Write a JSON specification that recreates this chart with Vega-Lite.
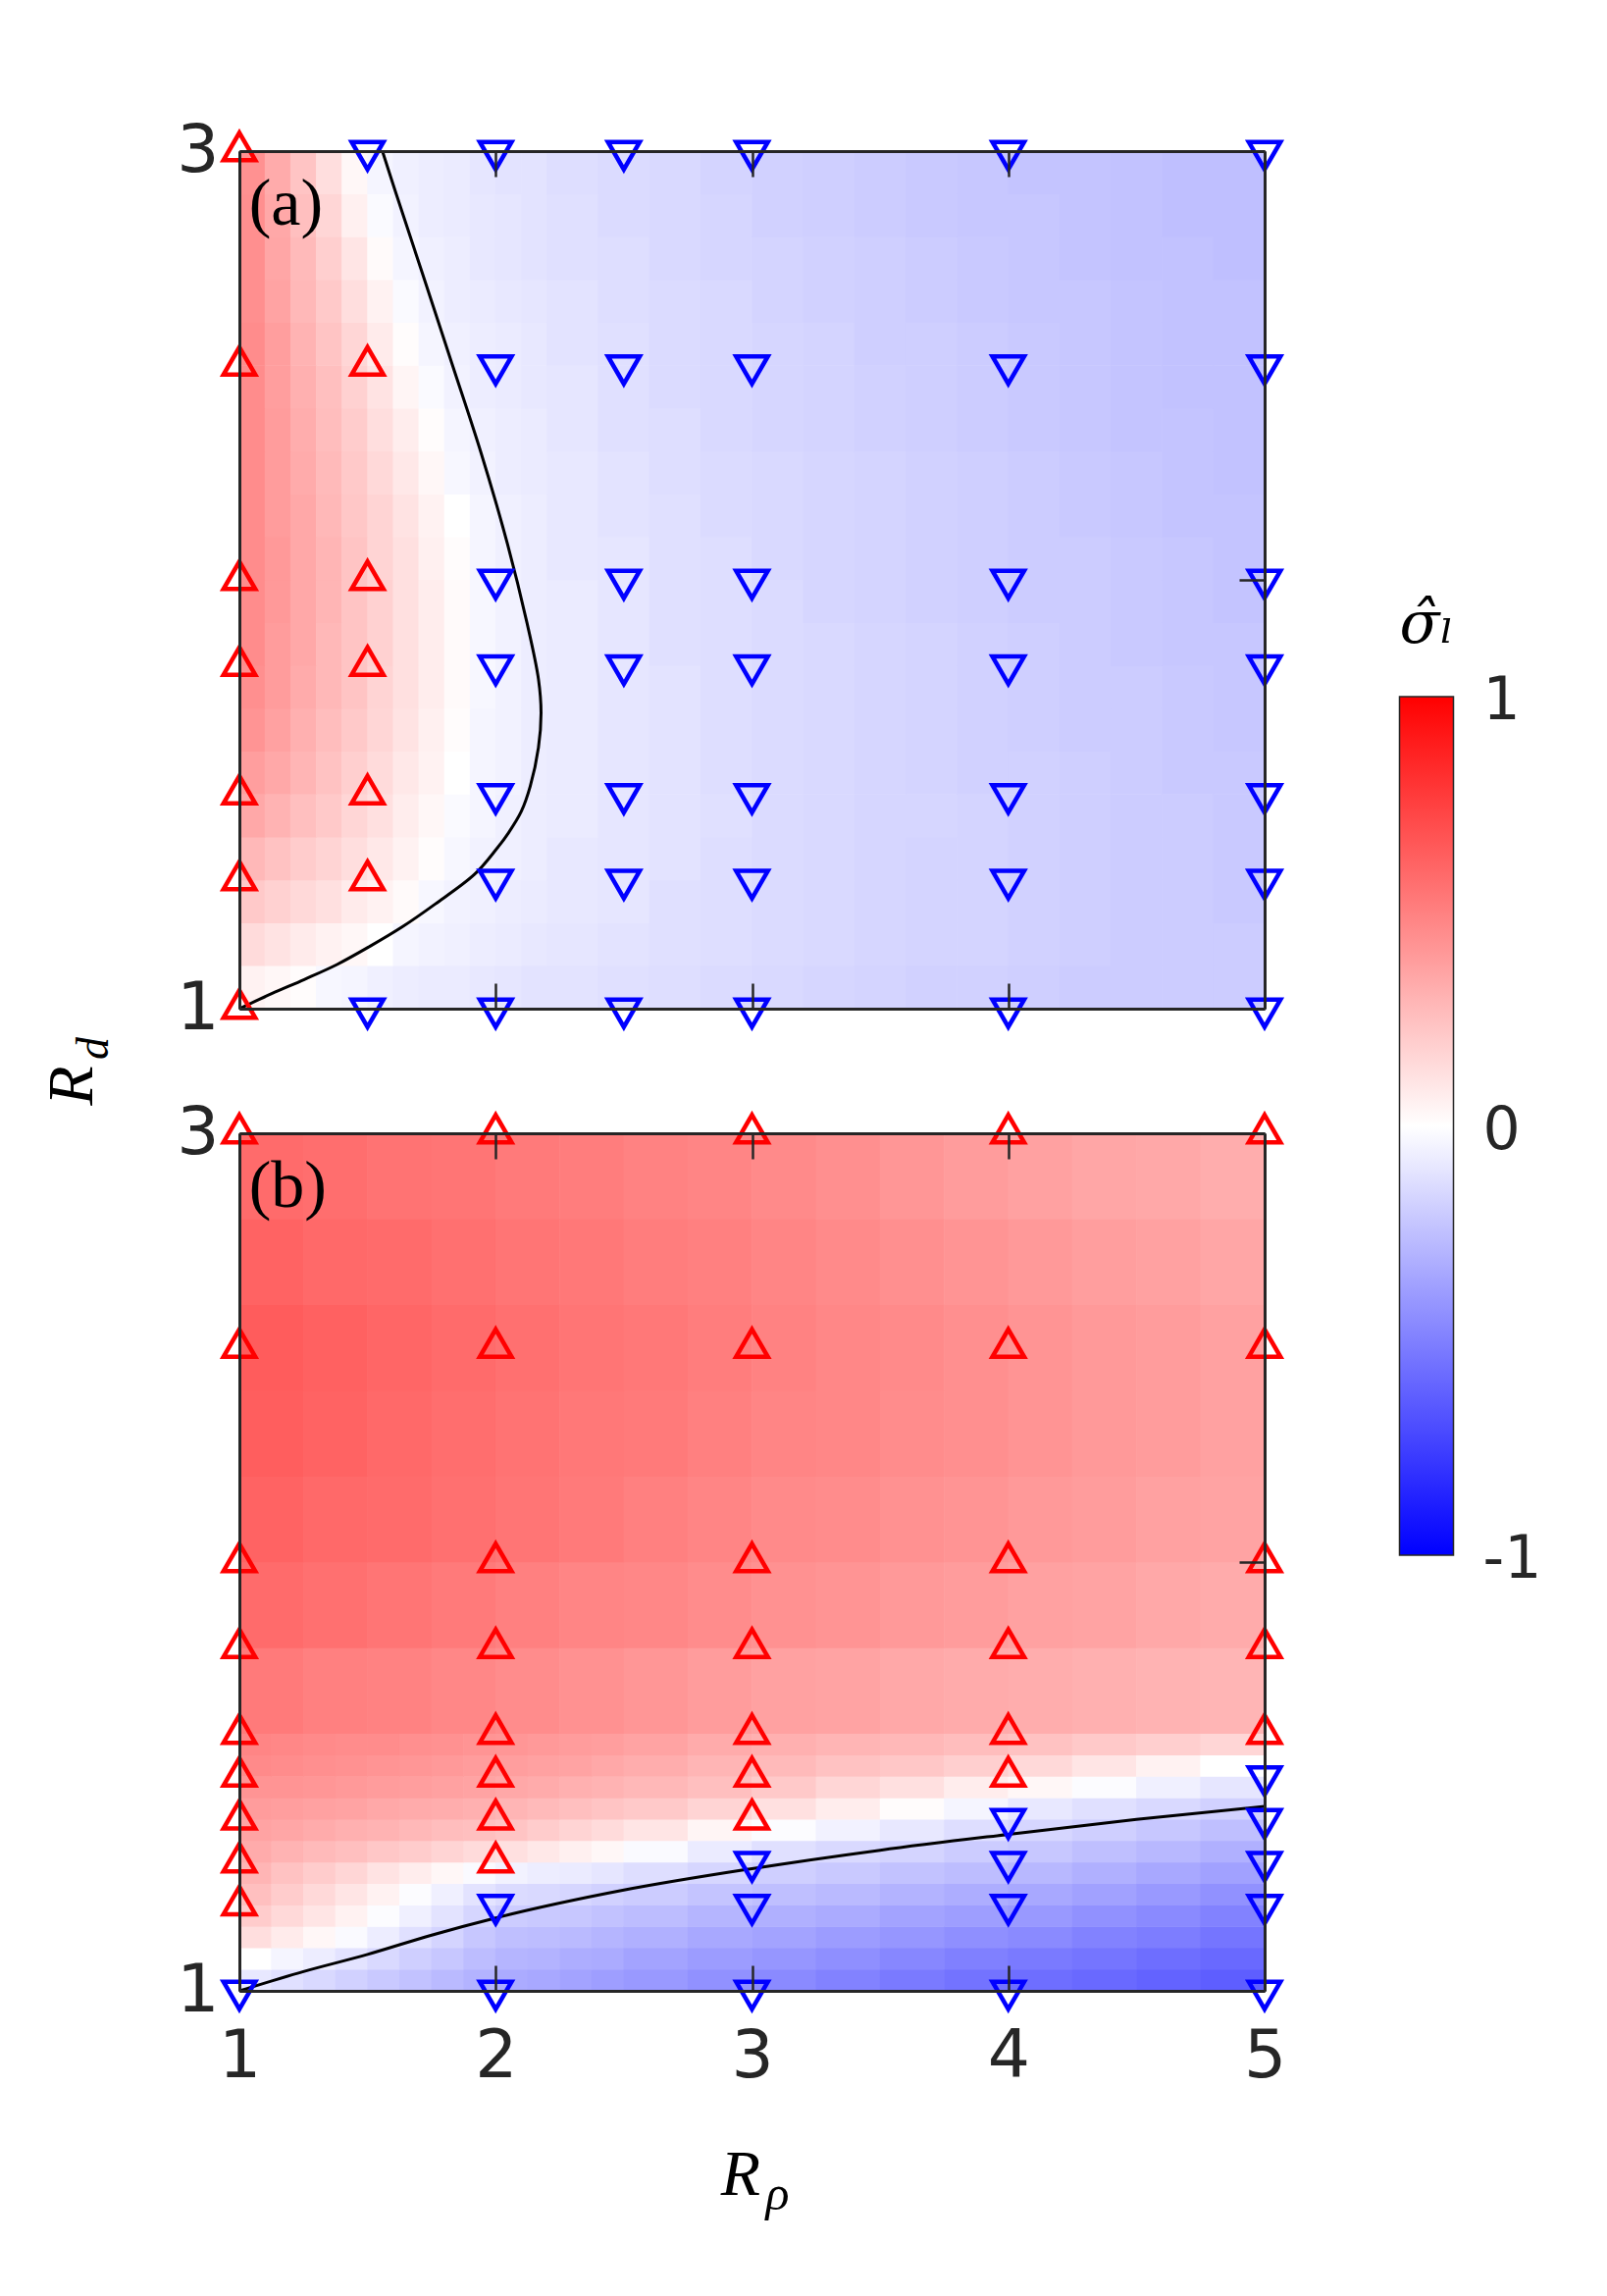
{
"$schema":"https://vega.github.io/schema/vega-lite/v6.json",
"background":"white",
"padding":{"left":40,"top":120,"right":5,"bottom":5},
"spacing":127,
"bounds":"flush",
"datasets":{
"a1":[
{"x":1.05,"y":1.05,"v":0.05},{"x":1.15,"y":1.05,"v":0.03},{"x":1.25,"y":1.05,"v":0.01},{"x":1.35,"y":1.05,"v":-0.03},{"x":1.45,"y":1.05,"v":-0.04},{"x":1.55,"y":1.05,"v":-0.06},{"x":1.65,"y":1.05,"v":-0.07},{"x":1.75,"y":1.05,"v":-0.08},{"x":1.85,"y":1.05,"v":-0.08},{"x":1.95,"y":1.05,"v":-0.09},{"x":2.05,"y":1.05,"v":-0.10},{"x":2.15,"y":1.05,"v":-0.11},
{"x":1.05,"y":1.15,"v":0.14},{"x":1.15,"y":1.15,"v":0.11},{"x":1.25,"y":1.15,"v":0.08},{"x":1.35,"y":1.15,"v":0.05},{"x":1.45,"y":1.15,"v":0.03},{"x":1.55,"y":1.15,"v":0.0},{"x":1.65,"y":1.15,"v":-0.04},{"x":1.75,"y":1.15,"v":-0.05},{"x":1.85,"y":1.15,"v":-0.06},{"x":1.95,"y":1.15,"v":-0.07},{"x":2.05,"y":1.15,"v":-0.08},{"x":2.15,"y":1.15,"v":-0.09},
{"x":1.05,"y":1.25,"v":0.21},{"x":1.15,"y":1.25,"v":0.18},{"x":1.25,"y":1.25,"v":0.15},{"x":1.35,"y":1.25,"v":0.12},{"x":1.45,"y":1.25,"v":0.08},{"x":1.55,"y":1.25,"v":0.05},{"x":1.65,"y":1.25,"v":0.02},{"x":1.75,"y":1.25,"v":-0.03},{"x":1.85,"y":1.25,"v":-0.05},{"x":1.95,"y":1.25,"v":-0.06},{"x":2.05,"y":1.25,"v":-0.07},{"x":2.15,"y":1.25,"v":-0.08},
{"x":1.05,"y":1.35,"v":0.28},{"x":1.15,"y":1.35,"v":0.24},{"x":1.25,"y":1.35,"v":0.20},{"x":1.35,"y":1.35,"v":0.17},{"x":1.45,"y":1.35,"v":0.13},{"x":1.55,"y":1.35,"v":0.09},{"x":1.65,"y":1.35,"v":0.05},{"x":1.75,"y":1.35,"v":0.01},{"x":1.85,"y":1.35,"v":-0.03},{"x":1.95,"y":1.35,"v":-0.05},{"x":2.05,"y":1.35,"v":-0.06},{"x":2.15,"y":1.35,"v":-0.07},
{"x":1.05,"y":1.45,"v":0.34},{"x":1.15,"y":1.45,"v":0.30},{"x":1.25,"y":1.45,"v":0.25},{"x":1.35,"y":1.45,"v":0.21},{"x":1.45,"y":1.45,"v":0.16},{"x":1.55,"y":1.45,"v":0.12},{"x":1.65,"y":1.45,"v":0.07},{"x":1.75,"y":1.45,"v":0.03},{"x":1.85,"y":1.45,"v":-0.02},{"x":1.95,"y":1.45,"v":-0.04},{"x":2.05,"y":1.45,"v":-0.06},{"x":2.15,"y":1.45,"v":-0.07},
{"x":1.05,"y":1.55,"v":0.38},{"x":1.15,"y":1.55,"v":0.34},{"x":1.25,"y":1.55,"v":0.29},{"x":1.35,"y":1.55,"v":0.24},{"x":1.45,"y":1.55,"v":0.19},{"x":1.55,"y":1.55,"v":0.14},{"x":1.65,"y":1.55,"v":0.09},{"x":1.75,"y":1.55,"v":0.05},{"x":1.85,"y":1.55,"v":0.0},{"x":1.95,"y":1.55,"v":-0.04},{"x":2.05,"y":1.55,"v":-0.05},{"x":2.15,"y":1.55,"v":-0.07},
{"x":1.05,"y":1.65,"v":0.42},{"x":1.15,"y":1.65,"v":0.37},{"x":1.25,"y":1.65,"v":0.31},{"x":1.35,"y":1.65,"v":0.26},{"x":1.45,"y":1.65,"v":0.21},{"x":1.55,"y":1.65,"v":0.16},{"x":1.65,"y":1.65,"v":0.11},{"x":1.75,"y":1.65,"v":0.06},{"x":1.85,"y":1.65,"v":0.01},{"x":1.95,"y":1.65,"v":-0.04},{"x":2.05,"y":1.65,"v":-0.05},{"x":2.15,"y":1.65,"v":-0.07},
{"x":1.05,"y":1.75,"v":0.44},{"x":1.15,"y":1.75,"v":0.39},{"x":1.25,"y":1.75,"v":0.33},{"x":1.35,"y":1.75,"v":0.28},{"x":1.45,"y":1.75,"v":0.23},{"x":1.55,"y":1.75,"v":0.17},{"x":1.65,"y":1.75,"v":0.12},{"x":1.75,"y":1.75,"v":0.07},{"x":1.85,"y":1.75,"v":0.02},{"x":1.95,"y":1.75,"v":-0.03},{"x":2.05,"y":1.75,"v":-0.05},{"x":2.15,"y":1.75,"v":-0.07},
{"x":1.05,"y":1.85,"v":0.45},{"x":1.15,"y":1.85,"v":0.39},{"x":1.25,"y":1.85,"v":0.34},{"x":1.35,"y":1.85,"v":0.28},{"x":1.45,"y":1.85,"v":0.23},{"x":1.55,"y":1.85,"v":0.18},{"x":1.65,"y":1.85,"v":0.12},{"x":1.75,"y":1.85,"v":0.07},{"x":1.85,"y":1.85,"v":0.02},{"x":1.95,"y":1.85,"v":-0.03},{"x":2.05,"y":1.85,"v":-0.05},{"x":2.15,"y":1.85,"v":-0.07},
{"x":1.05,"y":1.95,"v":0.45},{"x":1.15,"y":1.95,"v":0.40},{"x":1.25,"y":1.95,"v":0.34},{"x":1.35,"y":1.95,"v":0.29},{"x":1.45,"y":1.95,"v":0.23},{"x":1.55,"y":1.95,"v":0.18},{"x":1.65,"y":1.95,"v":0.12},{"x":1.75,"y":1.95,"v":0.07},{"x":1.85,"y":1.95,"v":0.02},{"x":1.95,"y":1.95,"v":-0.03},{"x":2.05,"y":1.95,"v":-0.05},{"x":2.15,"y":1.95,"v":-0.07},
{"x":1.05,"y":2.05,"v":0.45},{"x":1.15,"y":2.05,"v":0.40},{"x":1.25,"y":2.05,"v":0.34},{"x":1.35,"y":2.05,"v":0.29},{"x":1.45,"y":2.05,"v":0.23},{"x":1.55,"y":2.05,"v":0.17},{"x":1.65,"y":2.05,"v":0.12},{"x":1.75,"y":2.05,"v":0.06},{"x":1.85,"y":2.05,"v":0.01},{"x":1.95,"y":2.05,"v":-0.04},{"x":2.05,"y":2.05,"v":-0.06},{"x":2.15,"y":2.05,"v":-0.07},
{"x":1.05,"y":2.15,"v":0.45},{"x":1.15,"y":2.15,"v":0.39},{"x":1.25,"y":2.15,"v":0.34},{"x":1.35,"y":2.15,"v":0.28},{"x":1.45,"y":2.15,"v":0.22},{"x":1.55,"y":2.15,"v":0.17},{"x":1.65,"y":2.15,"v":0.11},{"x":1.75,"y":2.15,"v":0.05},{"x":1.85,"y":2.15,"v":0.0},{"x":1.95,"y":2.15,"v":-0.04},{"x":2.05,"y":2.15,"v":-0.06},{"x":2.15,"y":2.15,"v":-0.07},
{"x":1.05,"y":2.25,"v":0.45},{"x":1.15,"y":2.25,"v":0.39},{"x":1.25,"y":2.25,"v":0.33},{"x":1.35,"y":2.25,"v":0.27},{"x":1.45,"y":2.25,"v":0.21},{"x":1.55,"y":2.25,"v":0.15},{"x":1.65,"y":2.25,"v":0.09},{"x":1.75,"y":2.25,"v":0.03},{"x":1.85,"y":2.25,"v":-0.03},{"x":1.95,"y":2.25,"v":-0.05},{"x":2.05,"y":2.25,"v":-0.07},{"x":2.15,"y":2.25,"v":-0.08},
{"x":1.05,"y":2.35,"v":0.45},{"x":1.15,"y":2.35,"v":0.39},{"x":1.25,"y":2.35,"v":0.32},{"x":1.35,"y":2.35,"v":0.26},{"x":1.45,"y":2.35,"v":0.20},{"x":1.55,"y":2.35,"v":0.13},{"x":1.65,"y":2.35,"v":0.07},{"x":1.75,"y":2.35,"v":0.01},{"x":1.85,"y":2.35,"v":-0.04},{"x":1.95,"y":2.35,"v":-0.06},{"x":2.05,"y":2.35,"v":-0.07},{"x":2.15,"y":2.35,"v":-0.08},
{"x":1.05,"y":2.45,"v":0.45},{"x":1.15,"y":2.45,"v":0.38},{"x":1.25,"y":2.45,"v":0.31},{"x":1.35,"y":2.45,"v":0.25},{"x":1.45,"y":2.45,"v":0.18},{"x":1.55,"y":2.45,"v":0.11},{"x":1.65,"y":2.45,"v":0.04},{"x":1.75,"y":2.45,"v":-0.02},{"x":1.85,"y":2.45,"v":-0.05},{"x":1.95,"y":2.45,"v":-0.07},{"x":2.05,"y":2.45,"v":-0.08},{"x":2.15,"y":2.45,"v":-0.09},
{"x":1.05,"y":2.55,"v":0.45},{"x":1.15,"y":2.55,"v":0.38},{"x":1.25,"y":2.55,"v":0.30},{"x":1.35,"y":2.55,"v":0.23},{"x":1.45,"y":2.55,"v":0.16},{"x":1.55,"y":2.55,"v":0.08},{"x":1.65,"y":2.55,"v":0.01},{"x":1.75,"y":2.55,"v":-0.04},{"x":1.85,"y":2.55,"v":-0.06},{"x":1.95,"y":2.55,"v":-0.07},{"x":2.05,"y":2.55,"v":-0.08},{"x":2.15,"y":2.55,"v":-0.09},
{"x":1.05,"y":2.65,"v":0.44},{"x":1.15,"y":2.65,"v":0.36},{"x":1.25,"y":2.65,"v":0.28},{"x":1.35,"y":2.65,"v":0.21},{"x":1.45,"y":2.65,"v":0.13},{"x":1.55,"y":2.65,"v":0.05},{"x":1.65,"y":2.65,"v":-0.02},{"x":1.75,"y":2.65,"v":-0.05},{"x":1.85,"y":2.65,"v":-0.07},{"x":1.95,"y":2.65,"v":-0.08},{"x":2.05,"y":2.65,"v":-0.09},{"x":2.15,"y":2.65,"v":-0.10},
{"x":1.05,"y":2.75,"v":0.44},{"x":1.15,"y":2.75,"v":0.35},{"x":1.25,"y":2.75,"v":0.27},{"x":1.35,"y":2.75,"v":0.19},{"x":1.45,"y":2.75,"v":0.10},{"x":1.55,"y":2.75,"v":0.02},{"x":1.65,"y":2.75,"v":-0.04},{"x":1.75,"y":2.75,"v":-0.06},{"x":1.85,"y":2.75,"v":-0.07},{"x":1.95,"y":2.75,"v":-0.09},{"x":2.05,"y":2.75,"v":-0.10},{"x":2.15,"y":2.75,"v":-0.11},
{"x":1.05,"y":2.85,"v":0.44},{"x":1.15,"y":2.85,"v":0.34},{"x":1.25,"y":2.85,"v":0.25},{"x":1.35,"y":2.85,"v":0.16},{"x":1.45,"y":2.85,"v":0.06},{"x":1.55,"y":2.85,"v":-0.02},{"x":1.65,"y":2.85,"v":-0.05},{"x":1.75,"y":2.85,"v":-0.07},{"x":1.85,"y":2.85,"v":-0.08},{"x":1.95,"y":2.85,"v":-0.09},{"x":2.05,"y":2.85,"v":-0.10},{"x":2.15,"y":2.85,"v":-0.11},
{"x":1.05,"y":2.95,"v":0.43},{"x":1.15,"y":2.95,"v":0.33},{"x":1.25,"y":2.95,"v":0.23},{"x":1.35,"y":2.95,"v":0.13},{"x":1.45,"y":2.95,"v":0.03},{"x":1.55,"y":2.95,"v":-0.04},{"x":1.65,"y":2.95,"v":-0.06},{"x":1.75,"y":2.95,"v":-0.07},{"x":1.85,"y":2.95,"v":-0.08},{"x":1.95,"y":2.95,"v":-0.10},{"x":2.05,"y":2.95,"v":-0.11},{"x":2.15,"y":2.95,"v":-0.11}
],
"a2":[
{"x":2.3,"y":1.05,"v":-0.11},{"x":2.5,"y":1.05,"v":-0.12},{"x":2.7,"y":1.05,"v":-0.13},{"x":2.9,"y":1.05,"v":-0.14},{"x":3.1,"y":1.05,"v":-0.15},{"x":3.3,"y":1.05,"v":-0.16},{"x":3.5,"y":1.05,"v":-0.17},{"x":3.7,"y":1.05,"v":-0.18},{"x":3.9,"y":1.05,"v":-0.18},{"x":4.1,"y":1.05,"v":-0.19},{"x":4.3,"y":1.05,"v":-0.20},{"x":4.5,"y":1.05,"v":-0.20},{"x":4.7,"y":1.05,"v":-0.20},{"x":4.9,"y":1.05,"v":-0.20},
{"x":2.3,"y":1.15,"v":-0.10},{"x":2.5,"y":1.15,"v":-0.11},{"x":2.7,"y":1.15,"v":-0.12},{"x":2.9,"y":1.15,"v":-0.13},{"x":3.1,"y":1.15,"v":-0.14},{"x":3.3,"y":1.15,"v":-0.15},{"x":3.5,"y":1.15,"v":-0.16},{"x":3.7,"y":1.15,"v":-0.17},{"x":3.9,"y":1.15,"v":-0.17},{"x":4.1,"y":1.15,"v":-0.18},{"x":4.3,"y":1.15,"v":-0.19},{"x":4.5,"y":1.15,"v":-0.20},{"x":4.7,"y":1.15,"v":-0.20},{"x":4.9,"y":1.15,"v":-0.20},
{"x":2.3,"y":1.25,"v":-0.09},{"x":2.5,"y":1.25,"v":-0.10},{"x":2.7,"y":1.25,"v":-0.12},{"x":2.9,"y":1.25,"v":-0.13},{"x":3.1,"y":1.25,"v":-0.14},{"x":3.3,"y":1.25,"v":-0.15},{"x":3.5,"y":1.25,"v":-0.16},{"x":3.7,"y":1.25,"v":-0.17},{"x":3.9,"y":1.25,"v":-0.17},{"x":4.1,"y":1.25,"v":-0.18},{"x":4.3,"y":1.25,"v":-0.19},{"x":4.5,"y":1.25,"v":-0.20},{"x":4.7,"y":1.25,"v":-0.20},{"x":4.9,"y":1.25,"v":-0.21},
{"x":2.3,"y":1.35,"v":-0.09},{"x":2.5,"y":1.35,"v":-0.10},{"x":2.7,"y":1.35,"v":-0.11},{"x":2.9,"y":1.35,"v":-0.13},{"x":3.1,"y":1.35,"v":-0.14},{"x":3.3,"y":1.35,"v":-0.15},{"x":3.5,"y":1.35,"v":-0.16},{"x":3.7,"y":1.35,"v":-0.17},{"x":3.9,"y":1.35,"v":-0.17},{"x":4.1,"y":1.35,"v":-0.18},{"x":4.3,"y":1.35,"v":-0.19},{"x":4.5,"y":1.35,"v":-0.20},{"x":4.7,"y":1.35,"v":-0.20},{"x":4.9,"y":1.35,"v":-0.21},
{"x":2.3,"y":1.45,"v":-0.08},{"x":2.5,"y":1.45,"v":-0.10},{"x":2.7,"y":1.45,"v":-0.11},{"x":2.9,"y":1.45,"v":-0.12},{"x":3.1,"y":1.45,"v":-0.14},{"x":3.3,"y":1.45,"v":-0.15},{"x":3.5,"y":1.45,"v":-0.16},{"x":3.7,"y":1.45,"v":-0.16},{"x":3.9,"y":1.45,"v":-0.17},{"x":4.1,"y":1.45,"v":-0.18},{"x":4.3,"y":1.45,"v":-0.19},{"x":4.5,"y":1.45,"v":-0.20},{"x":4.7,"y":1.45,"v":-0.20},{"x":4.9,"y":1.45,"v":-0.21},
{"x":2.3,"y":1.55,"v":-0.08},{"x":2.5,"y":1.55,"v":-0.10},{"x":2.7,"y":1.55,"v":-0.11},{"x":2.9,"y":1.55,"v":-0.13},{"x":3.1,"y":1.55,"v":-0.14},{"x":3.3,"y":1.55,"v":-0.15},{"x":3.5,"y":1.55,"v":-0.16},{"x":3.7,"y":1.55,"v":-0.17},{"x":3.9,"y":1.55,"v":-0.18},{"x":4.1,"y":1.55,"v":-0.18},{"x":4.3,"y":1.55,"v":-0.19},{"x":4.5,"y":1.55,"v":-0.20},{"x":4.7,"y":1.55,"v":-0.21},{"x":4.9,"y":1.55,"v":-0.21},
{"x":2.3,"y":1.65,"v":-0.08},{"x":2.5,"y":1.65,"v":-0.10},{"x":2.7,"y":1.65,"v":-0.11},{"x":2.9,"y":1.65,"v":-0.13},{"x":3.1,"y":1.65,"v":-0.14},{"x":3.3,"y":1.65,"v":-0.15},{"x":3.5,"y":1.65,"v":-0.16},{"x":3.7,"y":1.65,"v":-0.17},{"x":3.9,"y":1.65,"v":-0.18},{"x":4.1,"y":1.65,"v":-0.19},{"x":4.3,"y":1.65,"v":-0.20},{"x":4.5,"y":1.65,"v":-0.20},{"x":4.7,"y":1.65,"v":-0.21},{"x":4.9,"y":1.65,"v":-0.22},
{"x":2.3,"y":1.75,"v":-0.08},{"x":2.5,"y":1.75,"v":-0.10},{"x":2.7,"y":1.75,"v":-0.11},{"x":2.9,"y":1.75,"v":-0.13},{"x":3.1,"y":1.75,"v":-0.14},{"x":3.3,"y":1.75,"v":-0.15},{"x":3.5,"y":1.75,"v":-0.16},{"x":3.7,"y":1.75,"v":-0.17},{"x":3.9,"y":1.75,"v":-0.18},{"x":4.1,"y":1.75,"v":-0.19},{"x":4.3,"y":1.75,"v":-0.20},{"x":4.5,"y":1.75,"v":-0.20},{"x":4.7,"y":1.75,"v":-0.21},{"x":4.9,"y":1.75,"v":-0.22},
{"x":2.3,"y":1.85,"v":-0.08},{"x":2.5,"y":1.85,"v":-0.10},{"x":2.7,"y":1.85,"v":-0.12},{"x":2.9,"y":1.85,"v":-0.13},{"x":3.1,"y":1.85,"v":-0.14},{"x":3.3,"y":1.85,"v":-0.15},{"x":3.5,"y":1.85,"v":-0.16},{"x":3.7,"y":1.85,"v":-0.17},{"x":3.9,"y":1.85,"v":-0.18},{"x":4.1,"y":1.85,"v":-0.19},{"x":4.3,"y":1.85,"v":-0.20},{"x":4.5,"y":1.85,"v":-0.21},{"x":4.7,"y":1.85,"v":-0.22},{"x":4.9,"y":1.85,"v":-0.22},
{"x":2.3,"y":1.95,"v":-0.08},{"x":2.5,"y":1.95,"v":-0.10},{"x":2.7,"y":1.95,"v":-0.12},{"x":2.9,"y":1.95,"v":-0.13},{"x":3.1,"y":1.95,"v":-0.14},{"x":3.3,"y":1.95,"v":-0.16},{"x":3.5,"y":1.95,"v":-0.17},{"x":3.7,"y":1.95,"v":-0.18},{"x":3.9,"y":1.95,"v":-0.19},{"x":4.1,"y":1.95,"v":-0.20},{"x":4.3,"y":1.95,"v":-0.20},{"x":4.5,"y":1.95,"v":-0.21},{"x":4.7,"y":1.95,"v":-0.22},{"x":4.9,"y":1.95,"v":-0.23},
{"x":2.3,"y":2.05,"v":-0.09},{"x":2.5,"y":2.05,"v":-0.10},{"x":2.7,"y":2.05,"v":-0.12},{"x":2.9,"y":2.05,"v":-0.13},{"x":3.1,"y":2.05,"v":-0.15},{"x":3.3,"y":2.05,"v":-0.16},{"x":3.5,"y":2.05,"v":-0.17},{"x":3.7,"y":2.05,"v":-0.18},{"x":3.9,"y":2.05,"v":-0.19},{"x":4.1,"y":2.05,"v":-0.20},{"x":4.3,"y":2.05,"v":-0.20},{"x":4.5,"y":2.05,"v":-0.21},{"x":4.7,"y":2.05,"v":-0.22},{"x":4.9,"y":2.05,"v":-0.23},
{"x":2.3,"y":2.15,"v":-0.09},{"x":2.5,"y":2.15,"v":-0.11},{"x":2.7,"y":2.15,"v":-0.12},{"x":2.9,"y":2.15,"v":-0.14},{"x":3.1,"y":2.15,"v":-0.15},{"x":3.3,"y":2.15,"v":-0.16},{"x":3.5,"y":2.15,"v":-0.17},{"x":3.7,"y":2.15,"v":-0.18},{"x":3.9,"y":2.15,"v":-0.19},{"x":4.1,"y":2.15,"v":-0.20},{"x":4.3,"y":2.15,"v":-0.21},{"x":4.5,"y":2.15,"v":-0.22},{"x":4.7,"y":2.15,"v":-0.23},{"x":4.9,"y":2.15,"v":-0.23},
{"x":2.3,"y":2.25,"v":-0.09},{"x":2.5,"y":2.25,"v":-0.11},{"x":2.7,"y":2.25,"v":-0.13},{"x":2.9,"y":2.25,"v":-0.14},{"x":3.1,"y":2.25,"v":-0.15},{"x":3.3,"y":2.25,"v":-0.16},{"x":3.5,"y":2.25,"v":-0.17},{"x":3.7,"y":2.25,"v":-0.18},{"x":3.9,"y":2.25,"v":-0.19},{"x":4.1,"y":2.25,"v":-0.20},{"x":4.3,"y":2.25,"v":-0.21},{"x":4.5,"y":2.25,"v":-0.22},{"x":4.7,"y":2.25,"v":-0.23},{"x":4.9,"y":2.25,"v":-0.24},
{"x":2.3,"y":2.35,"v":-0.10},{"x":2.5,"y":2.35,"v":-0.12},{"x":2.7,"y":2.35,"v":-0.13},{"x":2.9,"y":2.35,"v":-0.15},{"x":3.1,"y":2.35,"v":-0.16},{"x":3.3,"y":2.35,"v":-0.17},{"x":3.5,"y":2.35,"v":-0.18},{"x":3.7,"y":2.35,"v":-0.19},{"x":3.9,"y":2.35,"v":-0.20},{"x":4.1,"y":2.35,"v":-0.21},{"x":4.3,"y":2.35,"v":-0.22},{"x":4.5,"y":2.35,"v":-0.23},{"x":4.7,"y":2.35,"v":-0.23},{"x":4.9,"y":2.35,"v":-0.24},
{"x":2.3,"y":2.45,"v":-0.10},{"x":2.5,"y":2.45,"v":-0.12},{"x":2.7,"y":2.45,"v":-0.14},{"x":2.9,"y":2.45,"v":-0.15},{"x":3.1,"y":2.45,"v":-0.16},{"x":3.3,"y":2.45,"v":-0.17},{"x":3.5,"y":2.45,"v":-0.18},{"x":3.7,"y":2.45,"v":-0.19},{"x":3.9,"y":2.45,"v":-0.20},{"x":4.1,"y":2.45,"v":-0.21},{"x":4.3,"y":2.45,"v":-0.22},{"x":4.5,"y":2.45,"v":-0.23},{"x":4.7,"y":2.45,"v":-0.24},{"x":4.9,"y":2.45,"v":-0.24},
{"x":2.3,"y":2.55,"v":-0.11},{"x":2.5,"y":2.55,"v":-0.12},{"x":2.7,"y":2.55,"v":-0.14},{"x":2.9,"y":2.55,"v":-0.15},{"x":3.1,"y":2.55,"v":-0.16},{"x":3.3,"y":2.55,"v":-0.17},{"x":3.5,"y":2.55,"v":-0.19},{"x":3.7,"y":2.55,"v":-0.19},{"x":3.9,"y":2.55,"v":-0.20},{"x":4.1,"y":2.55,"v":-0.21},{"x":4.3,"y":2.55,"v":-0.22},{"x":4.5,"y":2.55,"v":-0.23},{"x":4.7,"y":2.55,"v":-0.24},{"x":4.9,"y":2.55,"v":-0.24},
{"x":2.3,"y":2.65,"v":-0.11},{"x":2.5,"y":2.65,"v":-0.13},{"x":2.7,"y":2.65,"v":-0.14},{"x":2.9,"y":2.65,"v":-0.15},{"x":3.1,"y":2.65,"v":-0.17},{"x":3.3,"y":2.65,"v":-0.18},{"x":3.5,"y":2.65,"v":-0.19},{"x":3.7,"y":2.65,"v":-0.20},{"x":3.9,"y":2.65,"v":-0.21},{"x":4.1,"y":2.65,"v":-0.22},{"x":4.3,"y":2.65,"v":-0.22},{"x":4.5,"y":2.65,"v":-0.23},{"x":4.7,"y":2.65,"v":-0.24},{"x":4.9,"y":2.65,"v":-0.24},
{"x":2.3,"y":2.75,"v":-0.12},{"x":2.5,"y":2.75,"v":-0.13},{"x":2.7,"y":2.75,"v":-0.15},{"x":2.9,"y":2.75,"v":-0.16},{"x":3.1,"y":2.75,"v":-0.17},{"x":3.3,"y":2.75,"v":-0.18},{"x":3.5,"y":2.75,"v":-0.19},{"x":3.7,"y":2.75,"v":-0.20},{"x":3.9,"y":2.75,"v":-0.21},{"x":4.1,"y":2.75,"v":-0.22},{"x":4.3,"y":2.75,"v":-0.23},{"x":4.5,"y":2.75,"v":-0.24},{"x":4.7,"y":2.75,"v":-0.24},{"x":4.9,"y":2.75,"v":-0.25},
{"x":2.3,"y":2.85,"v":-0.12},{"x":2.5,"y":2.85,"v":-0.14},{"x":2.7,"y":2.85,"v":-0.15},{"x":2.9,"y":2.85,"v":-0.16},{"x":3.1,"y":2.85,"v":-0.18},{"x":3.3,"y":2.85,"v":-0.19},{"x":3.5,"y":2.85,"v":-0.20},{"x":3.7,"y":2.85,"v":-0.21},{"x":3.9,"y":2.85,"v":-0.22},{"x":4.1,"y":2.85,"v":-0.22},{"x":4.3,"y":2.85,"v":-0.23},{"x":4.5,"y":2.85,"v":-0.24},{"x":4.7,"y":2.85,"v":-0.25},{"x":4.9,"y":2.85,"v":-0.25},
{"x":2.3,"y":2.95,"v":-0.13},{"x":2.5,"y":2.95,"v":-0.14},{"x":2.7,"y":2.95,"v":-0.15},{"x":2.9,"y":2.95,"v":-0.17},{"x":3.1,"y":2.95,"v":-0.18},{"x":3.3,"y":2.95,"v":-0.19},{"x":3.5,"y":2.95,"v":-0.20},{"x":3.7,"y":2.95,"v":-0.21},{"x":3.9,"y":2.95,"v":-0.22},{"x":4.1,"y":2.95,"v":-0.23},{"x":4.3,"y":2.95,"v":-0.23},{"x":4.5,"y":2.95,"v":-0.24},{"x":4.7,"y":2.95,"v":-0.25},{"x":4.9,"y":2.95,"v":-0.25}
],
"b0":[
{"x":1.0625,"y":1.025,"v":-0.09},{"x":1.1875,"y":1.025,"v":-0.12},{"x":1.3125,"y":1.025,"v":-0.15},{"x":1.4375,"y":1.025,"v":-0.18},{"x":1.5625,"y":1.025,"v":-0.21},{"x":1.6875,"y":1.025,"v":-0.24},{"x":1.8125,"y":1.025,"v":-0.27},{"x":1.9375,"y":1.025,"v":-0.30},{"x":2.0625,"y":1.025,"v":-0.33},{"x":2.1875,"y":1.025,"v":-0.34},{"x":2.3125,"y":1.025,"v":-0.36},{"x":2.4375,"y":1.025,"v":-0.38},
{"x":1.0625,"y":1.075,"v":0.0},{"x":1.1875,"y":1.075,"v":-0.04},{"x":1.3125,"y":1.075,"v":-0.07},{"x":1.4375,"y":1.075,"v":-0.11},{"x":1.5625,"y":1.075,"v":-0.15},{"x":1.6875,"y":1.075,"v":-0.19},{"x":1.8125,"y":1.075,"v":-0.22},{"x":1.9375,"y":1.075,"v":-0.26},{"x":2.0625,"y":1.075,"v":-0.29},{"x":2.1875,"y":1.075,"v":-0.30},{"x":2.3125,"y":1.075,"v":-0.32},{"x":2.4375,"y":1.075,"v":-0.33},
{"x":1.0625,"y":1.125,"v":0.13},{"x":1.1875,"y":1.125,"v":0.08},{"x":1.3125,"y":1.125,"v":0.03},{"x":1.4375,"y":1.125,"v":-0.02},{"x":1.5625,"y":1.125,"v":-0.07},{"x":1.6875,"y":1.125,"v":-0.12},{"x":1.8125,"y":1.125,"v":-0.17},{"x":1.9375,"y":1.125,"v":-0.22},{"x":2.0625,"y":1.125,"v":-0.25},{"x":2.1875,"y":1.125,"v":-0.26},{"x":2.3125,"y":1.125,"v":-0.27},{"x":2.4375,"y":1.125,"v":-0.29},
{"x":1.0625,"y":1.175,"v":0.20},{"x":1.1875,"y":1.175,"v":0.15},{"x":1.3125,"y":1.175,"v":0.10},{"x":1.4375,"y":1.175,"v":0.05},{"x":1.5625,"y":1.175,"v":-0.01},{"x":1.6875,"y":1.175,"v":-0.06},{"x":1.8125,"y":1.175,"v":-0.11},{"x":1.9375,"y":1.175,"v":-0.16},{"x":2.0625,"y":1.175,"v":-0.20},{"x":2.1875,"y":1.175,"v":-0.21},{"x":2.3125,"y":1.175,"v":-0.22},{"x":2.4375,"y":1.175,"v":-0.24},
{"x":1.0625,"y":1.225,"v":0.25},{"x":1.1875,"y":1.225,"v":0.20},{"x":1.3125,"y":1.225,"v":0.15},{"x":1.4375,"y":1.225,"v":0.10},{"x":1.5625,"y":1.225,"v":0.05},{"x":1.6875,"y":1.225,"v":-0.01},{"x":1.8125,"y":1.225,"v":-0.06},{"x":1.9375,"y":1.225,"v":-0.11},{"x":2.0625,"y":1.225,"v":-0.14},{"x":2.1875,"y":1.225,"v":-0.15},{"x":2.3125,"y":1.225,"v":-0.16},{"x":2.4375,"y":1.225,"v":-0.18},
{"x":1.0625,"y":1.275,"v":0.29},{"x":1.1875,"y":1.275,"v":0.24},{"x":1.3125,"y":1.275,"v":0.20},{"x":1.4375,"y":1.275,"v":0.16},{"x":1.5625,"y":1.275,"v":0.11},{"x":1.6875,"y":1.275,"v":0.07},{"x":1.8125,"y":1.275,"v":0.03},{"x":1.9375,"y":1.275,"v":-0.02},{"x":2.0625,"y":1.275,"v":-0.05},{"x":2.1875,"y":1.275,"v":-0.07},{"x":2.3125,"y":1.275,"v":-0.08},{"x":2.4375,"y":1.275,"v":-0.10},
{"x":1.0625,"y":1.325,"v":0.33},{"x":1.1875,"y":1.325,"v":0.30},{"x":1.3125,"y":1.325,"v":0.27},{"x":1.4375,"y":1.325,"v":0.25},{"x":1.5625,"y":1.325,"v":0.22},{"x":1.6875,"y":1.325,"v":0.20},{"x":1.8125,"y":1.325,"v":0.17},{"x":1.9375,"y":1.325,"v":0.14},{"x":2.0625,"y":1.325,"v":0.12},{"x":2.1875,"y":1.325,"v":0.09},{"x":2.3125,"y":1.325,"v":0.06},{"x":2.4375,"y":1.325,"v":0.03},
{"x":1.0625,"y":1.375,"v":0.36},{"x":1.1875,"y":1.375,"v":0.35},{"x":1.3125,"y":1.375,"v":0.33},{"x":1.4375,"y":1.375,"v":0.31},{"x":1.5625,"y":1.375,"v":0.30},{"x":1.6875,"y":1.375,"v":0.28},{"x":1.8125,"y":1.375,"v":0.26},{"x":1.9375,"y":1.375,"v":0.25},{"x":2.0625,"y":1.375,"v":0.23},{"x":2.1875,"y":1.375,"v":0.20},{"x":2.3125,"y":1.375,"v":0.17},{"x":2.4375,"y":1.375,"v":0.14},
{"x":1.0625,"y":1.425,"v":0.39},{"x":1.1875,"y":1.425,"v":0.38},{"x":1.3125,"y":1.425,"v":0.37},{"x":1.4375,"y":1.425,"v":0.36},{"x":1.5625,"y":1.425,"v":0.34},{"x":1.6875,"y":1.425,"v":0.33},{"x":1.8125,"y":1.425,"v":0.32},{"x":1.9375,"y":1.425,"v":0.31},{"x":2.0625,"y":1.425,"v":0.29},{"x":2.1875,"y":1.425,"v":0.27},{"x":2.3125,"y":1.425,"v":0.25},{"x":2.4375,"y":1.425,"v":0.23},
{"x":1.0625,"y":1.475,"v":0.42},{"x":1.1875,"y":1.475,"v":0.42},{"x":1.3125,"y":1.475,"v":0.41},{"x":1.4375,"y":1.475,"v":0.40},{"x":1.5625,"y":1.475,"v":0.39},{"x":1.6875,"y":1.475,"v":0.38},{"x":1.8125,"y":1.475,"v":0.37},{"x":1.9375,"y":1.475,"v":0.36},{"x":2.0625,"y":1.475,"v":0.34},{"x":2.1875,"y":1.475,"v":0.33},{"x":2.3125,"y":1.475,"v":0.31},{"x":2.4375,"y":1.475,"v":0.30},
{"x":1.0625,"y":1.525,"v":0.46},{"x":1.1875,"y":1.525,"v":0.45},{"x":1.3125,"y":1.525,"v":0.44},{"x":1.4375,"y":1.525,"v":0.43},{"x":1.5625,"y":1.525,"v":0.42},{"x":1.6875,"y":1.525,"v":0.41},{"x":1.8125,"y":1.525,"v":0.40},{"x":1.9375,"y":1.525,"v":0.39},{"x":2.0625,"y":1.525,"v":0.38},{"x":2.1875,"y":1.525,"v":0.37},{"x":2.3125,"y":1.525,"v":0.36},{"x":2.4375,"y":1.525,"v":0.34},
{"x":1.0625,"y":1.575,"v":0.48},{"x":1.1875,"y":1.575,"v":0.47},{"x":1.3125,"y":1.575,"v":0.46},{"x":1.4375,"y":1.575,"v":0.45},{"x":1.5625,"y":1.575,"v":0.45},{"x":1.6875,"y":1.575,"v":0.44},{"x":1.8125,"y":1.575,"v":0.43},{"x":1.9375,"y":1.575,"v":0.42},{"x":2.0625,"y":1.575,"v":0.41},{"x":2.1875,"y":1.575,"v":0.40},{"x":2.3125,"y":1.575,"v":0.39},{"x":2.4375,"y":1.575,"v":0.38}
],
"b1":[
{"x":2.625,"y":1.025,"v":-0.40},{"x":2.875,"y":1.025,"v":-0.43},{"x":3.125,"y":1.025,"v":-0.46},{"x":3.375,"y":1.025,"v":-0.49},{"x":3.625,"y":1.025,"v":-0.52},{"x":3.875,"y":1.025,"v":-0.55},{"x":4.125,"y":1.025,"v":-0.57},{"x":4.375,"y":1.025,"v":-0.59},{"x":4.625,"y":1.025,"v":-0.61},{"x":4.875,"y":1.025,"v":-0.63},
{"x":2.625,"y":1.075,"v":-0.36},{"x":2.875,"y":1.075,"v":-0.39},{"x":3.125,"y":1.075,"v":-0.41},{"x":3.375,"y":1.075,"v":-0.44},{"x":3.625,"y":1.075,"v":-0.47},{"x":3.875,"y":1.075,"v":-0.50},{"x":4.125,"y":1.075,"v":-0.52},{"x":4.375,"y":1.075,"v":-0.54},{"x":4.625,"y":1.075,"v":-0.57},{"x":4.875,"y":1.075,"v":-0.59},
{"x":2.625,"y":1.125,"v":-0.31},{"x":2.875,"y":1.125,"v":-0.34},{"x":3.125,"y":1.125,"v":-0.36},{"x":3.375,"y":1.125,"v":-0.39},{"x":3.625,"y":1.125,"v":-0.41},{"x":3.875,"y":1.125,"v":-0.44},{"x":4.125,"y":1.125,"v":-0.46},{"x":4.375,"y":1.125,"v":-0.49},{"x":4.625,"y":1.125,"v":-0.51},{"x":4.875,"y":1.125,"v":-0.54},
{"x":2.625,"y":1.175,"v":-0.26},{"x":2.875,"y":1.175,"v":-0.29},{"x":3.125,"y":1.175,"v":-0.31},{"x":3.375,"y":1.175,"v":-0.33},{"x":3.625,"y":1.175,"v":-0.36},{"x":3.875,"y":1.175,"v":-0.38},{"x":4.125,"y":1.175,"v":-0.40},{"x":4.375,"y":1.175,"v":-0.43},{"x":4.625,"y":1.175,"v":-0.46},{"x":4.875,"y":1.175,"v":-0.49},
{"x":2.625,"y":1.225,"v":-0.20},{"x":2.875,"y":1.225,"v":-0.23},{"x":3.125,"y":1.225,"v":-0.25},{"x":3.375,"y":1.225,"v":-0.27},{"x":3.625,"y":1.225,"v":-0.30},{"x":3.875,"y":1.225,"v":-0.32},{"x":4.125,"y":1.225,"v":-0.34},{"x":4.375,"y":1.225,"v":-0.37},{"x":4.625,"y":1.225,"v":-0.40},{"x":4.875,"y":1.225,"v":-0.43},
{"x":2.625,"y":1.275,"v":-0.13},{"x":2.875,"y":1.275,"v":-0.16},{"x":3.125,"y":1.275,"v":-0.19},{"x":3.375,"y":1.275,"v":-0.21},{"x":3.625,"y":1.275,"v":-0.24},{"x":3.875,"y":1.275,"v":-0.26},{"x":4.125,"y":1.275,"v":-0.28},{"x":4.375,"y":1.275,"v":-0.31},{"x":4.625,"y":1.275,"v":-0.34},{"x":4.875,"y":1.275,"v":-0.37},
{"x":2.625,"y":1.325,"v":-0.02},{"x":2.875,"y":1.325,"v":-0.08},{"x":3.125,"y":1.325,"v":-0.12},{"x":3.375,"y":1.325,"v":-0.15},{"x":3.625,"y":1.325,"v":-0.17},{"x":3.875,"y":1.325,"v":-0.20},{"x":4.125,"y":1.325,"v":-0.22},{"x":4.375,"y":1.325,"v":-0.25},{"x":4.625,"y":1.325,"v":-0.28},{"x":4.875,"y":1.325,"v":-0.31},
{"x":2.625,"y":1.375,"v":0.10},{"x":2.875,"y":1.375,"v":0.04},{"x":3.125,"y":1.375,"v":-0.01},{"x":3.375,"y":1.375,"v":-0.05},{"x":3.625,"y":1.375,"v":-0.09},{"x":3.875,"y":1.375,"v":-0.13},{"x":4.125,"y":1.375,"v":-0.16},{"x":4.375,"y":1.375,"v":-0.19},{"x":4.625,"y":1.375,"v":-0.22},{"x":4.875,"y":1.375,"v":-0.25},
{"x":2.625,"y":1.425,"v":0.21},{"x":2.875,"y":1.425,"v":0.17},{"x":3.125,"y":1.425,"v":0.12},{"x":3.375,"y":1.425,"v":0.07},{"x":3.625,"y":1.425,"v":0.01},{"x":3.875,"y":1.425,"v":-0.04},{"x":4.125,"y":1.425,"v":-0.09},{"x":4.375,"y":1.425,"v":-0.12},{"x":4.625,"y":1.425,"v":-0.15},{"x":4.875,"y":1.425,"v":-0.18},
{"x":2.625,"y":1.475,"v":0.28},{"x":2.875,"y":1.475,"v":0.25},{"x":3.125,"y":1.475,"v":0.21},{"x":3.375,"y":1.475,"v":0.16},{"x":3.625,"y":1.475,"v":0.12},{"x":3.875,"y":1.475,"v":0.07},{"x":4.125,"y":1.475,"v":0.03},{"x":4.375,"y":1.475,"v":-0.01},{"x":4.625,"y":1.475,"v":-0.06},{"x":4.875,"y":1.475,"v":-0.10},
{"x":2.625,"y":1.525,"v":0.32},{"x":2.875,"y":1.525,"v":0.29},{"x":3.125,"y":1.525,"v":0.27},{"x":3.375,"y":1.525,"v":0.24},{"x":3.625,"y":1.525,"v":0.22},{"x":3.875,"y":1.525,"v":0.19},{"x":4.125,"y":1.525,"v":0.15},{"x":4.375,"y":1.525,"v":0.10},{"x":4.625,"y":1.525,"v":0.05},{"x":4.875,"y":1.525,"v":0.0},
{"x":2.625,"y":1.575,"v":0.36},{"x":2.875,"y":1.575,"v":0.33},{"x":3.125,"y":1.575,"v":0.31},{"x":3.375,"y":1.575,"v":0.29},{"x":3.625,"y":1.575,"v":0.28},{"x":3.875,"y":1.575,"v":0.26},{"x":4.125,"y":1.575,"v":0.24},{"x":4.375,"y":1.575,"v":0.21},{"x":4.625,"y":1.575,"v":0.19},{"x":4.875,"y":1.575,"v":0.16}
],
"b2":[
{"x":1.125,"y":1.7,"v":0.52},{"x":1.375,"y":1.7,"v":0.50},{"x":1.625,"y":1.7,"v":0.49},{"x":1.875,"y":1.7,"v":0.47},{"x":2.125,"y":1.7,"v":0.45},{"x":2.375,"y":1.7,"v":0.43},{"x":2.625,"y":1.7,"v":0.41},{"x":2.875,"y":1.7,"v":0.39},{"x":3.125,"y":1.7,"v":0.37},{"x":3.375,"y":1.7,"v":0.36},{"x":3.625,"y":1.7,"v":0.34},{"x":3.875,"y":1.7,"v":0.33},{"x":4.125,"y":1.7,"v":0.32},{"x":4.375,"y":1.7,"v":0.31},{"x":4.625,"y":1.7,"v":0.30},{"x":4.875,"y":1.7,"v":0.29},
{"x":1.125,"y":1.9,"v":0.58},{"x":1.375,"y":1.9,"v":0.56},{"x":1.625,"y":1.9,"v":0.54},{"x":1.875,"y":1.9,"v":0.52},{"x":2.125,"y":1.9,"v":0.50},{"x":2.375,"y":1.9,"v":0.48},{"x":2.625,"y":1.9,"v":0.47},{"x":2.875,"y":1.9,"v":0.45},{"x":3.125,"y":1.9,"v":0.43},{"x":3.375,"y":1.9,"v":0.42},{"x":3.625,"y":1.9,"v":0.40},{"x":3.875,"y":1.9,"v":0.39},{"x":4.125,"y":1.9,"v":0.37},{"x":4.375,"y":1.9,"v":0.36},{"x":4.625,"y":1.9,"v":0.34},{"x":4.875,"y":1.9,"v":0.33},
{"x":1.125,"y":2.1,"v":0.61},{"x":1.375,"y":2.1,"v":0.59},{"x":1.625,"y":2.1,"v":0.58},{"x":1.875,"y":2.1,"v":0.56},{"x":2.125,"y":2.1,"v":0.54},{"x":2.375,"y":2.1,"v":0.52},{"x":2.625,"y":2.1,"v":0.50},{"x":2.875,"y":2.1,"v":0.48},{"x":3.125,"y":2.1,"v":0.46},{"x":3.375,"y":2.1,"v":0.45},{"x":3.625,"y":2.1,"v":0.43},{"x":3.875,"y":2.1,"v":0.42},{"x":4.125,"y":2.1,"v":0.40},{"x":4.375,"y":2.1,"v":0.39},{"x":4.625,"y":2.1,"v":0.37},{"x":4.875,"y":2.1,"v":0.36},
{"x":1.125,"y":2.3,"v":0.63},{"x":1.375,"y":2.3,"v":0.61},{"x":1.625,"y":2.3,"v":0.59},{"x":1.875,"y":2.3,"v":0.57},{"x":2.125,"y":2.3,"v":0.55},{"x":2.375,"y":2.3,"v":0.53},{"x":2.625,"y":2.3,"v":0.52},{"x":2.875,"y":2.3,"v":0.50},{"x":3.125,"y":2.3,"v":0.48},{"x":3.375,"y":2.3,"v":0.47},{"x":3.625,"y":2.3,"v":0.45},{"x":3.875,"y":2.3,"v":0.44},{"x":4.125,"y":2.3,"v":0.42},{"x":4.375,"y":2.3,"v":0.40},{"x":4.625,"y":2.3,"v":0.39},{"x":4.875,"y":2.3,"v":0.37},
{"x":1.125,"y":2.5,"v":0.64},{"x":1.375,"y":2.5,"v":0.62},{"x":1.625,"y":2.5,"v":0.60},{"x":1.875,"y":2.5,"v":0.58},{"x":2.125,"y":2.5,"v":0.56},{"x":2.375,"y":2.5,"v":0.54},{"x":2.625,"y":2.5,"v":0.53},{"x":2.875,"y":2.5,"v":0.51},{"x":3.125,"y":2.5,"v":0.49},{"x":3.375,"y":2.5,"v":0.47},{"x":3.625,"y":2.5,"v":0.46},{"x":3.875,"y":2.5,"v":0.44},{"x":4.125,"y":2.5,"v":0.42},{"x":4.375,"y":2.5,"v":0.40},{"x":4.625,"y":2.5,"v":0.39},{"x":4.875,"y":2.5,"v":0.37},
{"x":1.125,"y":2.7,"v":0.61},{"x":1.375,"y":2.7,"v":0.59},{"x":1.625,"y":2.7,"v":0.58},{"x":1.875,"y":2.7,"v":0.56},{"x":2.125,"y":2.7,"v":0.54},{"x":2.375,"y":2.7,"v":0.53},{"x":2.625,"y":2.7,"v":0.51},{"x":2.875,"y":2.7,"v":0.50},{"x":3.125,"y":2.7,"v":0.48},{"x":3.375,"y":2.7,"v":0.46},{"x":3.625,"y":2.7,"v":0.44},{"x":3.875,"y":2.7,"v":0.42},{"x":4.125,"y":2.7,"v":0.40},{"x":4.375,"y":2.7,"v":0.38},{"x":4.625,"y":2.7,"v":0.37},{"x":4.875,"y":2.7,"v":0.35},
{"x":1.125,"y":2.9,"v":0.58},{"x":1.375,"y":2.9,"v":0.57},{"x":1.625,"y":2.9,"v":0.55},{"x":1.875,"y":2.9,"v":0.54},{"x":2.125,"y":2.9,"v":0.52},{"x":2.375,"y":2.9,"v":0.51},{"x":2.625,"y":2.9,"v":0.49},{"x":2.875,"y":2.9,"v":0.48},{"x":3.125,"y":2.9,"v":0.46},{"x":3.375,"y":2.9,"v":0.44},{"x":3.625,"y":2.9,"v":0.41},{"x":3.875,"y":2.9,"v":0.39},{"x":4.125,"y":2.9,"v":0.37},{"x":4.375,"y":2.9,"v":0.35},{"x":4.625,"y":2.9,"v":0.34},{"x":4.875,"y":2.9,"v":0.32}
],
"ca":[
{"i":1,"x":1.558,"y":3.0},{"i":2,"x":1.612,"y":2.9},{"i":3,"x":1.714,"y":2.715},{"i":4,"x":1.829,"y":2.505},{"i":5,"x":1.944,"y":2.294},{"i":6,"x":2.046,"y":2.084},{"i":7,"x":2.122,"y":1.9},{"i":8,"x":2.167,"y":1.768},{"i":9,"x":2.177,"y":1.69},{"i":10,"x":2.167,"y":1.61},{"i":11,"x":2.135,"y":1.519},{"i":12,"x":2.1,"y":1.46},{"i":13,"x":2.05,"y":1.41},{"i":14,"x":2.0,"y":1.37},{"i":15,"x":1.917,"y":1.313},{"i":16,"x":1.764,"y":1.244},{"i":17,"x":1.636,"y":1.191},{"i":18,"x":1.508,"y":1.145},{"i":19,"x":1.381,"y":1.103},{"i":20,"x":1.253,"y":1.068},{"i":21,"x":1.126,"y":1.035},{"i":22,"x":1.0,"y":1.0}
],
"cb":[
{"i":1,"x":1.0,"y":1.0},{"i":2,"x":1.25,"y":1.045},{"i":3,"x":1.5,"y":1.085},{"i":4,"x":1.75,"y":1.13},{"i":5,"x":2.0,"y":1.17},{"i":6,"x":2.5,"y":1.235},{"i":7,"x":3.0,"y":1.285},{"i":8,"x":3.5,"y":1.328},{"i":9,"x":4.0,"y":1.365},{"i":10,"x":4.5,"y":1.4},{"i":11,"x":5.0,"y":1.43}
],
"ma":[
{"x":1,"y":3,"t":"up"},{"x":1,"y":2.5,"t":"up"},{"x":1,"y":2,"t":"up"},{"x":1,"y":1.8,"t":"up"},{"x":1,"y":1.5,"t":"up"},{"x":1,"y":1.3,"t":"up"},{"x":1,"y":1,"t":"up"},
{"x":1.5,"y":3,"t":"down"},{"x":1.5,"y":2.5,"t":"up"},{"x":1.5,"y":2,"t":"up"},{"x":1.5,"y":1.8,"t":"up"},{"x":1.5,"y":1.5,"t":"up"},{"x":1.5,"y":1.3,"t":"up"},{"x":1.5,"y":1,"t":"down"},
{"x":2,"y":3,"t":"down"},{"x":2,"y":2.5,"t":"down"},{"x":2,"y":2,"t":"down"},{"x":2,"y":1.8,"t":"down"},{"x":2,"y":1.5,"t":"down"},{"x":2,"y":1.3,"t":"down"},{"x":2,"y":1,"t":"down"},
{"x":2.5,"y":3,"t":"down"},{"x":2.5,"y":2.5,"t":"down"},{"x":2.5,"y":2,"t":"down"},{"x":2.5,"y":1.8,"t":"down"},{"x":2.5,"y":1.5,"t":"down"},{"x":2.5,"y":1.3,"t":"down"},{"x":2.5,"y":1,"t":"down"},
{"x":3,"y":3,"t":"down"},{"x":3,"y":2.5,"t":"down"},{"x":3,"y":2,"t":"down"},{"x":3,"y":1.8,"t":"down"},{"x":3,"y":1.5,"t":"down"},{"x":3,"y":1.3,"t":"down"},{"x":3,"y":1,"t":"down"},
{"x":4,"y":3,"t":"down"},{"x":4,"y":2.5,"t":"down"},{"x":4,"y":2,"t":"down"},{"x":4,"y":1.8,"t":"down"},{"x":4,"y":1.5,"t":"down"},{"x":4,"y":1.3,"t":"down"},{"x":4,"y":1,"t":"down"},
{"x":5,"y":3,"t":"down"},{"x":5,"y":2.5,"t":"down"},{"x":5,"y":2,"t":"down"},{"x":5,"y":1.8,"t":"down"},{"x":5,"y":1.5,"t":"down"},{"x":5,"y":1.3,"t":"down"},{"x":5,"y":1,"t":"down"}
],
"mb":[
{"x":1,"y":3,"t":"up"},{"x":1,"y":2.5,"t":"up"},{"x":1,"y":2,"t":"up"},{"x":1,"y":1.8,"t":"up"},{"x":1,"y":1.6,"t":"up"},{"x":1,"y":1.5,"t":"up"},{"x":1,"y":1.4,"t":"up"},{"x":1,"y":1.3,"t":"up"},{"x":1,"y":1.2,"t":"up"},{"x":1,"y":1,"t":"down"},
{"x":2,"y":3,"t":"up"},{"x":2,"y":2.5,"t":"up"},{"x":2,"y":2,"t":"up"},{"x":2,"y":1.8,"t":"up"},{"x":2,"y":1.6,"t":"up"},{"x":2,"y":1.5,"t":"up"},{"x":2,"y":1.4,"t":"up"},{"x":2,"y":1.3,"t":"up"},{"x":2,"y":1.2,"t":"down"},{"x":2,"y":1,"t":"down"},
{"x":3,"y":3,"t":"up"},{"x":3,"y":2.5,"t":"up"},{"x":3,"y":2,"t":"up"},{"x":3,"y":1.8,"t":"up"},{"x":3,"y":1.6,"t":"up"},{"x":3,"y":1.5,"t":"up"},{"x":3,"y":1.4,"t":"up"},{"x":3,"y":1.3,"t":"down"},{"x":3,"y":1.2,"t":"down"},{"x":3,"y":1,"t":"down"},
{"x":4,"y":3,"t":"up"},{"x":4,"y":2.5,"t":"up"},{"x":4,"y":2,"t":"up"},{"x":4,"y":1.8,"t":"up"},{"x":4,"y":1.6,"t":"up"},{"x":4,"y":1.5,"t":"up"},{"x":4,"y":1.4,"t":"down"},{"x":4,"y":1.3,"t":"down"},{"x":4,"y":1.2,"t":"down"},{"x":4,"y":1,"t":"down"},
{"x":5,"y":3,"t":"up"},{"x":5,"y":2.5,"t":"up"},{"x":5,"y":2,"t":"up"},{"x":5,"y":1.8,"t":"up"},{"x":5,"y":1.6,"t":"up"},{"x":5,"y":1.5,"t":"down"},{"x":5,"y":1.4,"t":"down"},{"x":5,"y":1.3,"t":"down"},{"x":5,"y":1.2,"t":"down"},{"x":5,"y":1,"t":"down"}
],
"la":[{"lab":"(a)","x":1.037,"y":2.875}],
"lb":[{"lab":"(b)","x":1.037,"y":2.875}]
},
"vconcat":[
{
"width":1045,"height":874,
"resolve":{"axis":{"x":"independent","y":"independent"}},
"layer":[
{"data":{"name":"a1"},"mark":{"type":"rect","width":26.7,"height":44.3},
 "encoding":{
  "x":{"field":"x","type":"quantitative","scale":{"domain":[1,5],"nice":false,"zero":false},"axis":{"orient":"bottom","zindex":1,"values":[1,2,3,4,5],"labels":false,"title":null}},
  "y":{"field":"y","type":"quantitative","scale":{"domain":[1,3],"nice":false,"zero":false},"axis":{"orient":"left","zindex":1,"values":[1,2,3],"format":"d","labelPadding":47,"title":null}},
  "color":{"field":"v","type":"quantitative","scale":{"domain":[-1,0,1],"range":["#0000ff","#ffffff","#ff0000"],"interpolate":"rgb"},"legend":{"orient":"none","legendX":1182.5,"legendY":454,"direction":"vertical","gradientLength":875,"gradientThickness":55,"values":[-1,0,1],"title":"\u03c3\u0302\u2097","labelOffset":30,"labelOverlap":false,"labelExpr":"datum.value < 0 ? '-1' : datum.value > 0 ? '1' : '0'","encode":{"labels":{"update":{"baseline":{"value":"middle"},"dy":{"value":5}}}}}}
 }},
{"data":{"name":"a2"},"mark":{"type":"rect","width":52.9,"height":44.3},
 "encoding":{
  "x":{"field":"x","type":"quantitative","scale":{"domain":[1,5],"nice":false,"zero":false},"axis":null},
  "y":{"field":"y","type":"quantitative","scale":{"domain":[1,3],"nice":false,"zero":false},"axis":null},
  "color":{"field":"v","type":"quantitative","scale":{"domain":[-1,0,1],"range":["#0000ff","#ffffff","#ff0000"],"interpolate":"rgb"},"legend":{"orient":"none","legendX":1182.5,"legendY":454,"direction":"vertical","gradientLength":875,"gradientThickness":55,"values":[-1,0,1],"title":"\u03c3\u0302\u2097","labelOffset":30,"labelOverlap":false,"labelExpr":"datum.value < 0 ? '-1' : datum.value > 0 ? '1' : '0'","encode":{"labels":{"update":{"baseline":{"value":"middle"},"dy":{"value":5}}}}}}
 }},
{"data":{"name":"ca"},"mark":{"type":"line","color":"#000000","strokeWidth":3,"interpolate":"catmull-rom"},
 "encoding":{
  "x":{"field":"x","type":"quantitative","axis":null},
  "y":{"field":"y","type":"quantitative","axis":null},
  "order":{"field":"i","type":"quantitative"}
 }},
{"data":{"name":"ma"},"mark":{"type":"point","filled":false,"size":1050,"strokeWidth":4.5,"opacity":1},
 "encoding":{
  "x":{"field":"x","type":"quantitative","axis":{"orient":"top","zindex":1,"values":[1,2,3,4,5],"labels":false,"title":null}},
  "y":{"field":"y","type":"quantitative","axis":{"orient":"right","zindex":1,"values":[1,2,3],"labels":false,"title":null}},
  "shape":{"field":"t","type":"nominal","scale":{"domain":["up","down"],"range":["M0,-1.155L1,0.577L-1,0.577Z","M0,1.155L1,-0.577L-1,-0.577Z"]},"legend":null},
  "stroke":{"field":"t","type":"nominal","scale":{"domain":["up","down"],"range":["#ff0000","#0000ff"]},"legend":null}
 }},
{"data":{"name":"la"},"mark":{"type":"text","font":"Liberation Serif","fontSize":68,"align":"left","baseline":"middle","color":"#000000"},
 "encoding":{
  "x":{"field":"x","type":"quantitative","axis":null},
  "y":{"field":"y","type":"quantitative","axis":null},
  "text":{"field":"lab"}
 }}
]
},
{
"width":1045,"height":874,
"resolve":{"axis":{"x":"independent","y":"independent"}},
"layer":[
{"data":{"name":"b0"},"mark":{"type":"rect","width":33.3,"height":22.4},
 "encoding":{
  "x":{"field":"x","type":"quantitative","scale":{"domain":[1,5],"nice":false,"zero":false},"axis":{"orient":"bottom","zindex":1,"values":[1,2,3,4,5],"format":"d","labelPadding":59,"title":"R","titleFontSize":66,"titleX":510.5,"titleY":207,"titleAlign":"center","titleBaseline":"alphabetic"}},
  "y":{"field":"y","type":"quantitative","scale":{"domain":[1,3],"nice":false,"zero":false},"axis":{"orient":"left","zindex":1,"values":[1,2,3],"format":"d","labelPadding":47,"title":"R","titleFontSize":66,"titleAngle":-90,"titleX":-150.5,"titleY":-49,"titleAlign":"center","titleBaseline":"alphabetic"}},
  "color":{"field":"v","type":"quantitative","scale":{"domain":[-1,0,1],"range":["#0000ff","#ffffff","#ff0000"],"interpolate":"rgb"},"legend":{"orient":"none","legendX":1182.5,"legendY":454,"direction":"vertical","gradientLength":875,"gradientThickness":55,"values":[-1,0,1],"title":"\u03c3\u0302\u2097","labelOffset":30,"labelOverlap":false,"labelExpr":"datum.value < 0 ? '-1' : datum.value > 0 ? '1' : '0'","encode":{"labels":{"update":{"baseline":{"value":"middle"},"dy":{"value":5}}}}}}
 }},
{"data":{"name":"b1"},"mark":{"type":"rect","width":65.9,"height":22.4},
 "encoding":{
  "x":{"field":"x","type":"quantitative","scale":{"domain":[1,5],"nice":false,"zero":false},"axis":null},
  "y":{"field":"y","type":"quantitative","scale":{"domain":[1,3],"nice":false,"zero":false},"axis":null},
  "color":{"field":"v","type":"quantitative","scale":{"domain":[-1,0,1],"range":["#0000ff","#ffffff","#ff0000"],"interpolate":"rgb"},"legend":{"orient":"none","legendX":1182.5,"legendY":454,"direction":"vertical","gradientLength":875,"gradientThickness":55,"values":[-1,0,1],"title":"\u03c3\u0302\u2097","labelOffset":30,"labelOverlap":false,"labelExpr":"datum.value < 0 ? '-1' : datum.value > 0 ? '1' : '0'","encode":{"labels":{"update":{"baseline":{"value":"middle"},"dy":{"value":5}}}}}}
 }},
{"data":{"name":"b2"},"mark":{"type":"rect","width":65.9,"height":88},
 "encoding":{
  "x":{"field":"x","type":"quantitative","scale":{"domain":[1,5],"nice":false,"zero":false},"axis":null},
  "y":{"field":"y","type":"quantitative","scale":{"domain":[1,3],"nice":false,"zero":false},"axis":null},
  "color":{"field":"v","type":"quantitative","scale":{"domain":[-1,0,1],"range":["#0000ff","#ffffff","#ff0000"],"interpolate":"rgb"},"legend":{"orient":"none","legendX":1182.5,"legendY":454,"direction":"vertical","gradientLength":875,"gradientThickness":55,"values":[-1,0,1],"title":"\u03c3\u0302\u2097","labelOffset":30,"labelOverlap":false,"labelExpr":"datum.value < 0 ? '-1' : datum.value > 0 ? '1' : '0'","encode":{"labels":{"update":{"baseline":{"value":"middle"},"dy":{"value":5}}}}}}
 }},
{"data":{"name":"cb"},"mark":{"type":"line","color":"#000000","strokeWidth":3,"interpolate":"monotone"},
 "encoding":{
  "x":{"field":"x","type":"quantitative","axis":null},
  "y":{"field":"y","type":"quantitative","axis":null},
  "order":{"field":"i","type":"quantitative"}
 }},
{"data":{"name":"mb"},"mark":{"type":"point","filled":false,"size":1050,"strokeWidth":4.5,"opacity":1},
 "encoding":{
  "x":{"field":"x","type":"quantitative","axis":{"orient":"top","zindex":1,"values":[1,2,3,4,5],"labels":false,"title":"\u03c1","titleFontSize":50,"titleAngle":0,"titleX":548,"titleY":1096,"titleAlign":"center","titleBaseline":"alphabetic"}},
  "y":{"field":"y","type":"quantitative","axis":{"orient":"right","zindex":1,"values":[1,2,3],"labels":false,"title":"d","titleFontSize":46,"titleAngle":-90,"titleX":-1180,"titleY":-87,"titleAlign":"center","titleBaseline":"alphabetic"}},
  "shape":{"field":"t","type":"nominal","scale":{"domain":["up","down"],"range":["M0,-1.155L1,0.577L-1,0.577Z","M0,1.155L1,-0.577L-1,-0.577Z"]},"legend":null},
  "stroke":{"field":"t","type":"nominal","scale":{"domain":["up","down"],"range":["#ff0000","#0000ff"]},"legend":null}
 }},
{"data":{"name":"lb"},"mark":{"type":"text","font":"Liberation Serif","fontSize":68,"align":"left","baseline":"middle","color":"#000000"},
 "encoding":{
  "x":{"field":"x","type":"quantitative","axis":null},
  "y":{"field":"y","type":"quantitative","axis":null},
  "text":{"field":"lab"}
 }}
]
}
],
"config":{
 "view":{"stroke":null},
 "font":"DejaVu Sans",
 "axis":{"labelFont":"DejaVu Sans","labelFontSize":68,"labelColor":"#262626","tickColor":"#262626","tickWidth":2.5,"tickSize":-26,"domainColor":"#262626","domainWidth":3,"grid":false,"labelFlush":false,"labelOverlap":false,"titleFont":"Liberation Serif","titleFontStyle":"italic","titleFontWeight":"normal","titleColor":"#000000"},
 "legend":{"titleFont":"DejaVu Serif","titleFontSize":60,"titleFontStyle":"italic","titleFontWeight":"normal","titleColor":"#000000","titlePadding":42,"titleAnchor":"start","labelFont":"DejaVu Sans","labelFontSize":60,"labelColor":"#262626","labelOffset":30,"gradientStrokeColor":"#262626","gradientStrokeWidth":1.5}
}
}
